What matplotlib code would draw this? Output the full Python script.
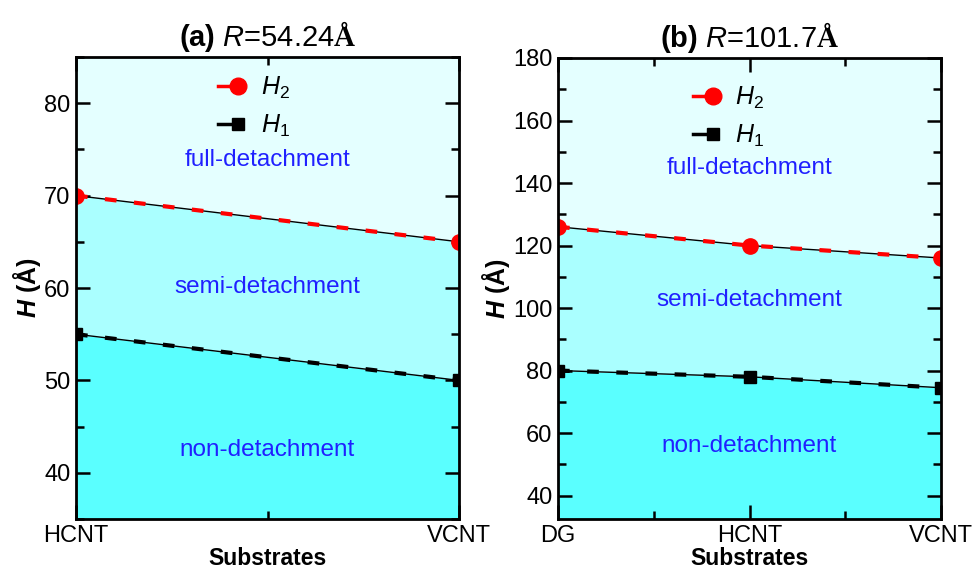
import matplotlib.pyplot as plt
from matplotlib.lines import Line2D
from matplotlib.legend_handler import HandlerLine2D
from matplotlib.ticker import MultipleLocator

plt.rcParams['font.family'] = ['Liberation Sans', 'DejaVu Sans']
plt.rcParams['mathtext.fontset'] = 'custom'
plt.rcParams['mathtext.rm'] = 'Liberation Sans'
plt.rcParams['mathtext.it'] = 'Liberation Sans:italic'
plt.rcParams['mathtext.bf'] = 'Liberation Sans:bold'
plt.rcParams['mathtext.bfit'] = 'Liberation Sans:italic:bold'
plt.rcParams['mathtext.tt'] = 'Liberation Serif:bold'

### data ###
subs_a = ["HCNT", "VCNT"]
h2_a = [70, 65]
h1_a = [55, 50]

subs_b = ["DG", "HCNT", "VCNT"]
h2_b = [126, 120, 116]
h1_b = [80, 78, 74.5]

c_low = "#5affff"
c_mid = "#aaffff"
c_top = "#e4ffff"
c_txt = "#2020ff"

W, H = 974, 570
fig = plt.figure(figsize=(W / 100, H / 100), dpi=100)


class RightMarker(HandlerLine2D):
    # marker on the right end of the short legend line
    def create_artists(self, legend, orig_handle, xdescent, ydescent,
                       width, height, fontsize, trans):
        arts = super().create_artists(legend, orig_handle, xdescent, ydescent,
                                      width, height, fontsize, trans)
        for a in arts:
            a.set_markevery([len(a.get_xdata()) - 1])
        return arts


def box(x0, y0, x1, y1):
    return [x0 / W, (H - y1) / H, (x1 - x0) / W, (y1 - y0) / H]


def panel(ax, subs, h2, h1, ylo, yhi, ymaj, ymin, title, lab_y, leg_at):
    x = list(range(len(subs)))
    ax.set_facecolor(c_top)
    ax.fill_between(x, ylo, h1, color=c_low, lw=0)
    ax.fill_between(x, h1, h2, color=c_mid, lw=0)
    # H2 : thin black line with red dashes
    ax.plot(x, h2, color="k", lw=1)
    ax.plot(x, h2, color="red", lw=3, ls=(0, (2.8, 4.2)))
    ax.plot(x, h2, "o", color="red", ms=11)
    # H1
    ax.plot(x, h1, color="k", lw=1)
    ax.plot(x, h1, color="k", lw=3, ls=(0, (2.8, 4.2)))
    ax.plot(x, h1, "s", color="k", ms=9)

    ax.set_xlim(0, len(subs) - 1)
    ax.set_ylim(ylo, yhi)
    ax.set_xticks(x)
    ax.set_xticklabels(subs)
    ax.xaxis.set_minor_locator(MultipleLocator(0.5))
    ax.yaxis.set_major_locator(MultipleLocator(ymaj))
    ax.yaxis.set_minor_locator(MultipleLocator(ymin))
    ax.tick_params(which="both", direction="in", top=True, right=True, width=1.8, labelsize=17)
    ax.tick_params(which="major", length=10, pad=4)
    ax.tick_params(which="minor", length=6)
    for s in ax.spines.values():
        s.set_linewidth(2)

    ax.set_xlabel("Substrates", fontsize=16.5, fontweight="bold", labelpad=0)
    ax.set_ylabel(r"$\mathbfit{H}$ (Å)", fontsize=18, fontweight="bold", labelpad=1)
    ax.set_title(title, fontsize=21, pad=8)

    xm = (len(subs) - 1) / 2
    for txt, yv in zip(["full-detachment", "semi-detachment", "non-detachment"], lab_y):
        ax.text(xm, yv, txt, color=c_txt, fontsize=17.5, ha="center", va="center")

    hs = [Line2D([0, 1], [0, 0], color="red", lw=2.5, marker="o", ms=12),
          Line2D([0, 1], [0, 0], color="k", lw=2.5, marker="s", ms=9)]
    ax.legend(hs, [r"$H_2$", r"$H_1$"], loc="upper center", bbox_to_anchor=leg_at,
              frameon=False, numpoints=2, handlelength=1.4, handletextpad=0.6,
              labelspacing=0.45, fontsize=18,
              handler_map={Line2D: RightMarker()})


ax1 = fig.add_axes(box(76, 57, 459, 519))
panel(ax1, subs_a, h2_a, h1_a, 35, 85, 10, 5,
      r"$\mathbf{(a)}$ $R$=54.24$\mathtt{Å}$", [73.8, 60.1, 42.5], (0.455, 1.01))

ax2 = fig.add_axes(box(558, 58, 941, 519))
panel(ax2, subs_b, h2_b, h1_b, 32.5, 180, 20, 10,
      r"$\mathbf{(b)}$ $R$=101.7$\mathtt{Å}$", [144.8, 102.6, 56], (0.435, 0.99))

fig.savefig("out.png", dpi=100)
